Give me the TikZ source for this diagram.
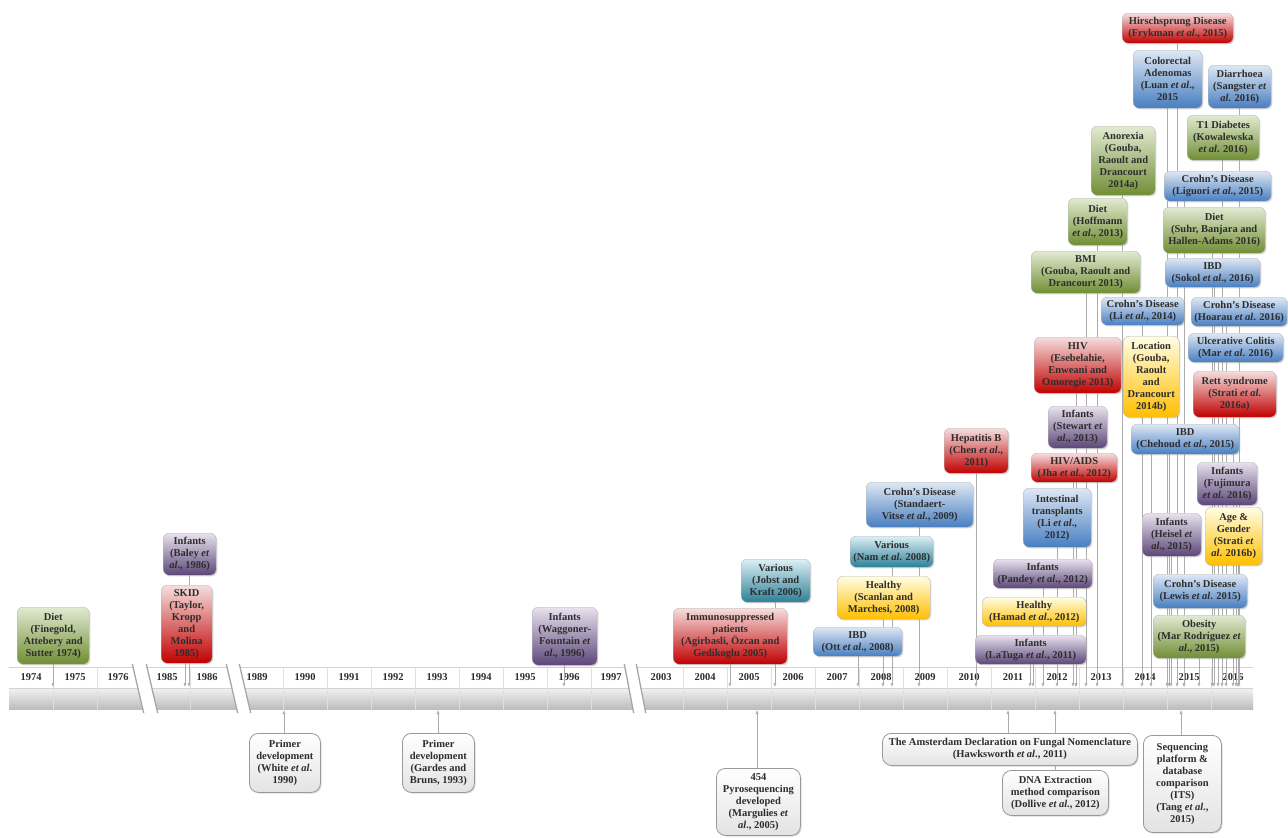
\documentclass[tikz,border=0pt]{standalone}
\usepackage{fontspec}
\setmainfont{Liberation Serif}
\usetikzlibrary{positioning,shadows,arrows.meta}

\definecolor{grnlo}{RGB}{112,142,52}
\definecolor{grnhi}{RGB}{226,234,210}
\definecolor{redlo}{RGB}{192,0,0}
\definecolor{redhi}{RGB}{246,222,222}
\definecolor{purlo}{RGB}{92,70,120}
\definecolor{purhi}{RGB}{232,226,238}
\definecolor{blulo}{RGB}{72,126,192}
\definecolor{bluhi}{RGB}{222,232,244}
\definecolor{tealo}{RGB}{45,128,152}
\definecolor{teahi}{RGB}{220,239,245}
\definecolor{yello}{RGB}{255,190,0}
\definecolor{yelhi}{RGB}{255,253,228}
\definecolor{evtext}{RGB}{45,45,45}

\pgfdeclarelayer{axis}
\pgfdeclarelayer{links}
\pgfsetlayers{axis,links,main}

\newcommand{\etal}{\textit{et al}}

\tikzset{
  ev/.style={anchor=north west, draw=gray!55, rounded corners=6pt, align=center, inner sep=2pt,
    text=evtext, font=\fontsize{10.5}{12}\selectfont\bfseries,
    drop shadow={opacity=0.3, shadow xshift=1.2pt, shadow yshift=-1.2pt}},
  evlow/.style={ev, rounded corners=9pt, draw=gray!80, line width=0.8pt, top color=white,
    bottom color=gray!22, font=\fontsize{10.5}{12}\selectfont\bfseries},
  evgreen/.style={top color=grnhi, bottom color=grnlo},
  evred/.style={top color=redhi, bottom color=redlo},
  evpurple/.style={top color=purhi, bottom color=purlo},
  evblue/.style={top color=bluhi, bottom color=blulo},
  evteal/.style={top color=teahi, bottom color=tealo},
  evyellow/.style={top color=yelhi, bottom color=yello},
  yearlbl/.style={font=\fontsize{10.5}{12}\selectfont\bfseries, text=evtext, inner sep=0pt},
  link/.style={draw=gray!65, line width=0.5pt, -{Latex[length=4pt,width=3pt]}},
}

\begin{document}
\begin{tikzpicture}[x=1pt,y=1pt,yscale=-1,xscale=1]
\useasboundingbox (0,0) rectangle (1288,838);

% time axis
\begin{pgfonlayer}{axis}
\begin{scope}
\clip (9,667) -- (133,667) -- (143,710) -- (9,710) -- cycle
      (147,667) -- (227,667) -- (237,710) -- (157,710) -- cycle
      (240,667) -- (625,667) -- (633,710) -- (250,710) -- cycle
      (637,667) -- (1253,667) -- (1253,710) -- (645,710) -- cycle;
\fill [white] (0,667) rectangle (1288,688);
\foreach \i in {0,...,21}
  \fill [gray!\the\numexpr 10+2*\i\relax] (0,688+\i) rectangle (1288,689.2+\i);
\draw [gray!35] (0,667.5) -- (1288,667.5) (0,688) -- (1288,688);
\foreach \sx in {53,97,190,283,327,371,415,459,503,547,591,683,727,771,815,859,903,947,991,1035,1079,1123,1167,1211}
  \draw [gray!25] (\sx,667) -- (\sx,710);
\end{scope}
\foreach \ta/\tb in {133/143,147/157,227/237,240/250,625/633,637/645}
  \draw [gray!70, line width=1.3pt] (\ta-0.7,664) -- (\tb+0.7,713);
\foreach \yr/\cx in {1974/31,1975/75,1976/118,1985/167,1986/207,1989/257,1990/305,1991/349,1992/393,1993/437,1994/481,1995/525,1996/569,1997/611,2003/661,2004/705,2005/749,2006/793,2007/837,2008/881,2009/925,2010/969,2011/1013,2012/1057,2013/1101,2014/1145,2015/1189,2016/1233}
  \node [yearlbl] (y\yr) at (\cx,677.5) {\yr};
\end{pgfonlayer}

% Events above the axis
\node [ev, evgreen, minimum width=72pt, minimum height=57pt] (diet74) at (17,607) {Diet\\(Finegold,\\Attebery and\\Sutter 1974)};
\node [ev, evred, minimum width=51pt, minimum height=78pt] (skid85) at (161,585) {SKID\\(Taylor,\\Kropp\\and\\Molina\\1985)};
\node [ev, evpurple, minimum width=53pt, minimum height=42pt] (baley86) at (163,533) {Infants\\(Baley \textit{et}\\\textit{al}., 1986)};
\node [ev, evpurple, minimum width=65pt, minimum height=58pt] (waggoner96) at (532,607) {Infants\\(Waggoner-\\Fountain \textit{et}\\\textit{al}., 1996)};
\node [ev, evred, minimum width=114pt, minimum height=56pt] (immuno05) at (673,608) {Immunosuppressed\\patients\\(Agirbasli, Özcan and\\Gedikoglu 2005)};
\node [ev, evteal, minimum width=69pt, minimum height=43pt] (jobst06) at (741,559) {Various\\(Jobst and\\Kraft 2006)};
\node [ev, evblue, minimum width=89pt, minimum height=29pt] (ott08) at (813,627) {IBD\\(Ott \etal., 2008)};
\node [ev, evyellow, minimum width=93pt, minimum height=43pt] (scanlan08) at (837,576) {Healthy\\(Scanlan and\\Marchesi, 2008)};
\node [ev, evteal, minimum width=83pt, minimum height=31pt] (nam08) at (850,536) {Various\\(Nam \etal. 2008)};
\node [ev, evblue, minimum width=107pt, minimum height=45pt] (standaert09) at (866,482) {Crohn's Disease\\(Standaert-\\Vitse \etal., 2009)};
\node [ev, evred, minimum width=64pt, minimum height=45pt] (chen11) at (944,428) {Hepatitis B\\(Chen \etal.,\\2011)};
\node [ev, evpurple, minimum width=111pt, minimum height=29pt] (latuga11) at (975,635) {Infants\\(LaTuga \etal., 2011)};
\node [ev, evyellow, minimum width=104pt, minimum height=29pt] (hamad12) at (982,597) {Healthy\\(Hamad \etal., 2012)};
\node [ev, evpurple, minimum width=99pt, minimum height=29pt] (pandey12) at (993,559) {Infants\\(Pandey \etal., 2012)};
\node [ev, evblue, minimum width=68pt, minimum height=59pt] (li12) at (1023,488) {Intestinal\\transplants\\(Li \etal.,\\2012)};
\node [ev, evred, minimum width=86pt, minimum height=29pt] (jha12) at (1031,453) {HIV/AIDS\\(Jha \etal., 2012)};
\node [ev, evpurple, minimum width=59pt, minimum height=42pt] (stewart13) at (1048,406) {Infants\\(Stewart \textit{et}\\\textit{al}., 2013)};
\node [ev, evred, minimum width=87pt, minimum height=56pt] (esebelahie13) at (1034,337) {HIV\\(Esebelahie,\\Enweani and\\Omoregie 2013)};
\node [ev, evgreen, minimum width=109pt, minimum height=42pt] (bmi13) at (1031,251) {BMI\\(Gouba, Raoult and\\Drancourt 2013)};
\node [ev, evgreen, minimum width=59pt, minimum height=47pt] (hoffmann13) at (1068,198) {Diet\\(Hoffmann\\\etal., 2013)};
\node [ev, evgreen, minimum width=64pt, minimum height=69pt] (anorexia14) at (1091,126) {Anorexia\\(Gouba,\\Raoult and\\Drancourt\\2014a)};
\node [ev, evblue, minimum width=83pt, minimum height=28pt] (lic14) at (1101,297) {Crohn's Disease\\(Li \etal., 2014)};
\node [ev, evyellow, minimum width=56pt, minimum height=81pt] (location14) at (1123,336) {Location\\(Gouba,\\Raoult\\and\\Drancourt\\2014b)};
\node [ev, evred, minimum width=111pt, minimum height=30pt] (frykman15) at (1122,13) {Hirschsprung Disease\\(Frykman \etal., 2015)};
\node [ev, evblue, minimum width=69pt, minimum height=58pt] (luan15) at (1133,50) {Colorectal\\Adenomas\\(Luan \etal.,\\2015};
\node [ev, evblue, minimum width=107pt, minimum height=30pt] (liguori15) at (1164,171) {Crohn's Disease\\(Liguori \etal., 2015)};
\node [ev, evblue, minimum width=108pt, minimum height=30pt] (chehoud15) at (1131,424) {IBD\\(Chehoud \etal., 2015)};
\node [ev, evpurple, minimum width=59pt, minimum height=43pt] (heisel15) at (1142,513) {Infants\\(Heisel \textit{et}\\\textit{al}., 2015)};
\node [ev, evblue, minimum width=94pt, minimum height=34pt] (lewis15) at (1153,574) {Crohn's Disease\\(Lewis \etal. 2015)};
\node [ev, evgreen, minimum width=92pt, minimum height=43pt] (obesity15) at (1153,615) {Obesity\\(Mar Rodríguez \textit{et}\\\textit{al}., 2015)};
\node [ev, evblue, minimum width=63pt, minimum height=43pt] (sangster16) at (1208,65) {Diarrhoea\\(Sangster \textit{et}\\\textit{al}. 2016)};
\node [ev, evgreen, minimum width=72pt, minimum height=45pt] (kowalewska16) at (1187,115) {T1 Diabetes\\(Kowalewska\\\etal. 2016)};
\node [ev, evgreen, minimum width=102pt, minimum height=46pt] (suhr16) at (1163,207) {Diet\\(Suhr, Banjara and\\Hallen-Adams 2016)};
\node [ev, evblue, minimum width=95pt, minimum height=29pt] (sokol16) at (1165,258) {IBD\\(Sokol \etal., 2016)};
\node [ev, evblue, minimum width=96pt, minimum height=29pt] (hoarau16) at (1191,297) {Crohn's Disease\\(Hoarau \etal. 2016)};
\node [ev, evblue, minimum width=95pt, minimum height=29pt] (mar16) at (1188,333) {Ulcerative Colitis\\(Mar \etal. 2016)};
\node [ev, evred, minimum width=83pt, minimum height=46pt] (strati16a) at (1193,371) {Rett syndrome\\(Strati \etal.\\2016a)};
\node [ev, evpurple, minimum width=60pt, minimum height=43pt] (fujimura16) at (1197,462) {Infants\\(Fujimura\\\etal. 2016)};
\node [ev, evyellow, minimum width=57pt, minimum height=58pt] (strati16b) at (1205,507) {Age \&\\Gender\\(Strati \textit{et}\\\textit{al}. 2016b)};

% Methods below the axis
\node [evlow, minimum width=71pt, minimum height=59pt] (white90) at (249,733) {Primer\\development\\(White \etal.\\1990)};
\node [evlow, minimum width=72pt, minimum height=59pt] (gardes93) at (402,733) {Primer\\development\\(Gardes and\\Bruns, 1993)};
\node [evlow, minimum width=84pt, minimum height=67pt] (margulies05) at (716,768) {454\\Pyrosequencing\\developed\\(Margulies \textit{et}\\\textit{al}., 2005)};
\node [evlow, minimum width=255pt, minimum height=32pt] (hawksworth11) at (882,733) {The Amsterdam Declaration on Fungal Nomenclature\\(Hawksworth \etal., 2011)};
\node [evlow, minimum width=106pt, minimum height=45pt] (dollive12) at (1002,770) {DNA Extraction\\method comparison\\(Dollive \etal., 2012)};
\node [evlow, minimum width=78pt, minimum height=97pt] (tang15) at (1143,735) {Sequencing\\platform \&\\database\\comparison\\(ITS)\\(Tang \etal.,\\2015)};

% connectors
\begin{pgfonlayer}{links}
\foreach \n/\x in {diet74/53,skid85/185,baley86/189,waggoner96/564,immuno05/730,jobst06/775,ott08/858,scanlan08/883,nam08/892,standaert09/919,chen11/976,latuga11/1030,hamad12/1033,pandey12/1043,li12/1057,jha12/1073,stewart13/1076,esebelahie13/1076,bmi13/1086,hoffmann13/1097,anorexia14/1122,lic14/1142,location14/1151,luan15/1167,chehoud15/1169,heisel15/1171,frykman15/1177,liguori15/1184,lewis15/1184,obesity15/1199,suhr16/1212,sokol16/1214,mar16/1218,kowalewska16/1222,hoarau16/1226,strati16a/1233,fujimura16/1236,strati16b/1238,sangster16/1239}
{
  \coordinate (\n-to) at (\x,687);
  \draw [link] (\n.south -| \n-to) -- (\n-to);
}
\foreach \n/\x in {white90/284,gardes93/438,margulies05/757,hawksworth11/1008,dollive12/1055,tang15/1181}
{
  \coordinate (\n-to) at (\x,710);
  \draw [link] (\n.north -| \n-to) -- (\n-to);
}
\end{pgfonlayer}

\end{tikzpicture}
\end{document}
